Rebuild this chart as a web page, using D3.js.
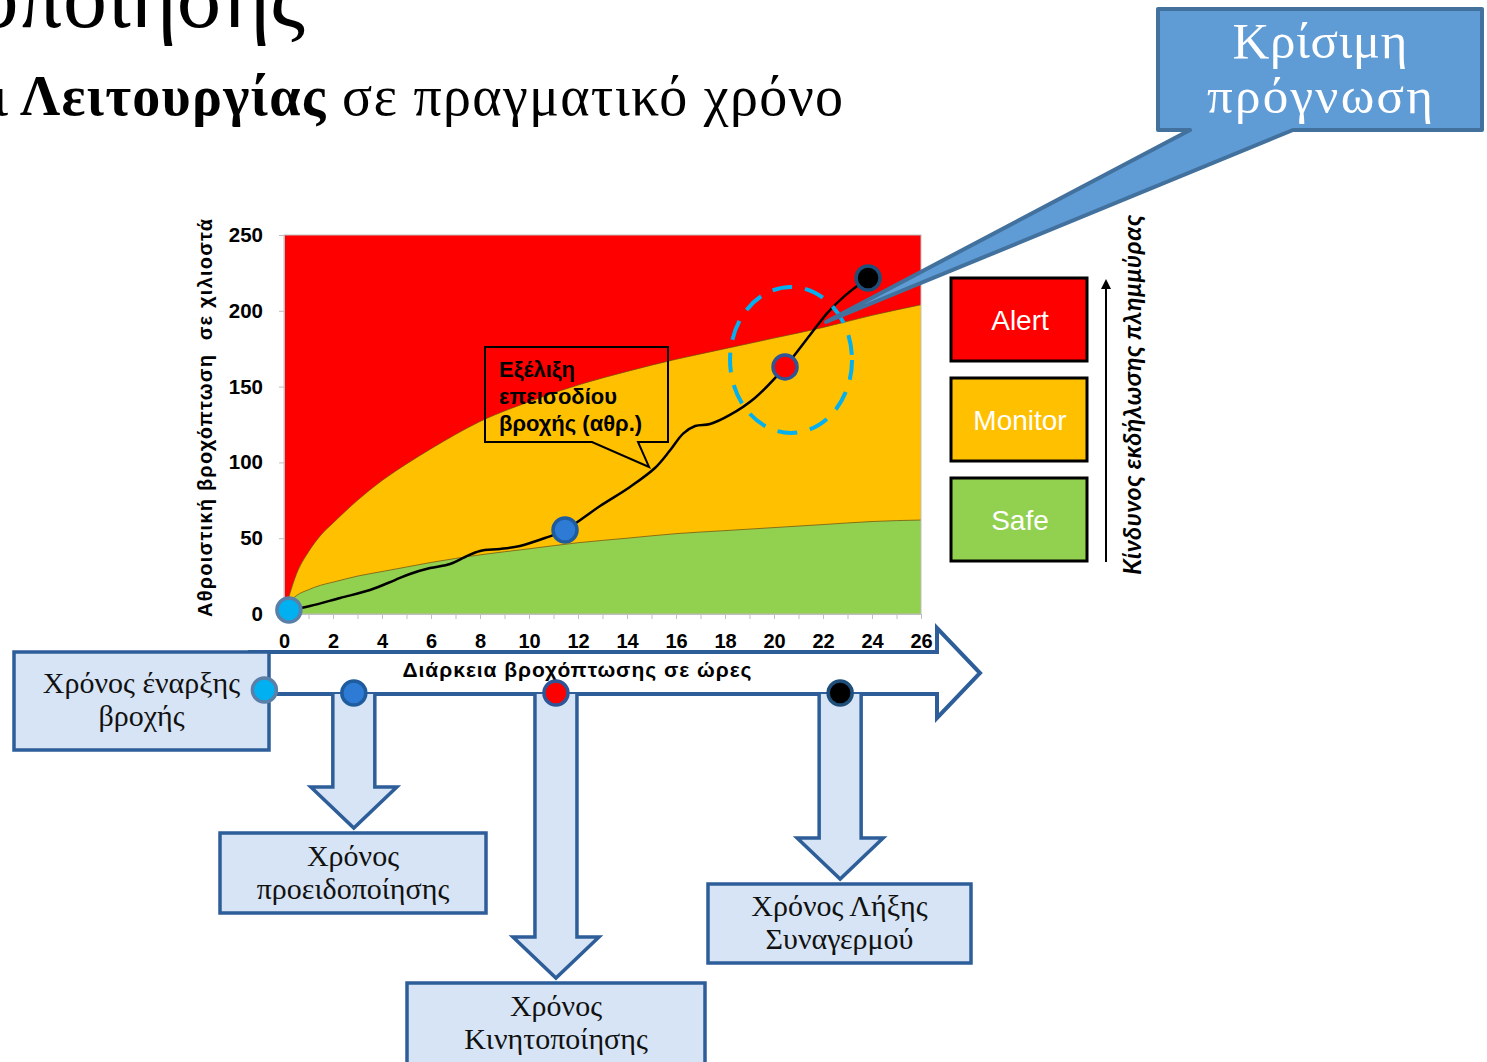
<!DOCTYPE html>
<html>
<head>
<meta charset="utf-8">
<script src="https://cdn.jsdelivr.net/npm/d3@7"></script>
<style>
body { margin: 0; background: #fff; }
svg text { white-space: pre; }
</style>
</head>
<body>
<svg id="chart" width="1487" height="1062"></svg>
<script>
// threshold curves (mm cumulative vs hours)
const hours = [0, 0.25, 0.5, 1, 1.5, 2, 3, 4, 5, 6, 8, 10, 12, 14, 16, 18, 20, 22, 24, 26];
const alertLimit = [0, 14, 26, 41, 52, 60, 75, 88, 99, 109, 127, 140, 151, 160, 168, 175, 182, 189, 197, 204];
const safeLimit = [0, 8, 12, 16, 19, 21, 25, 28, 31, 34, 39, 43, 47, 50, 53, 55, 57, 59, 61, 62];

// rain episode (cumulative)
const rainHours = [0.2, 1.06, 2.29, 3.51, 4.53, 5.14, 5.96, 6.78, 7.39, 8.0, 8.82, 9.63, 10.65, 11.47, 12.9, 14.12, 15.14, 15.76, 16.29, 16.78, 17.39, 18.2, 19.22, 20.45, 21.47, 22.2, 22.9, 23.84];
const rainTotal = [2.6, 5.3, 10.6, 15.8, 22.4, 26.4, 30.3, 33, 37.6, 41.6, 42.9, 44.9, 50.1, 55.4, 71.2, 83.8, 96.3, 108, 119, 124, 125.3, 131.3, 142.5, 163, 184, 199, 210, 221.6];

// events: start, warning, mobilisation, end of alarm
const eventHours = [0.2, 11.47, 20.45, 23.84];
const eventTotal = [2.6, 55.4, 163, 221.6];
const eventFill = ["#00B0F0", "#2E7BD6", "#FF0000", "#000000"];
const eventStroke = ["#5A7FA8", "#1F5C9E", "#2F5597", "#1F4E79"];
const timelineHours = [-0.8, 2.85, 11.1, 22.7];

const xTickLabels = [0, 2, 4, 6, 8, 10, 12, 14, 16, 18, 20, 22, 24, 26];
const yTickLabels = [0, 50, 100, 150, 200, 250];

const legendNames = ["Alert", "Monitor", "Safe"];
const legendColors = ["#FF0000", "#FFC000", "#92D050"];

const svg = d3.select("#chart");
const sans = "'Liberation Sans', Arial, sans-serif";
const serif = "'Liberation Serif', 'DejaVu Serif', serif";
const dark = "#2E5E99";
const pale = "#D6E4F5";

const x = d3.scaleLinear().domain([0, 26]).range([284, 921]);
const y = d3.scaleLinear().domain([0, 250]).range([614, 235]);

// --- titles
svg.append("text")
    .attr("x", 305).attr("y", 27)
    .attr("text-anchor", "end")
    .style("font-family", serif).style("font-size", "88px")
    .text("Προειδοποίησης");

svg.append("text")
    .attr("x", 8).attr("y", 115)
    .attr("text-anchor", "end")
    .style("font-family", serif).style("font-size", "56px")
    .text("και");

let sub = svg.append("text")
    .attr("x", 20).attr("y", 115)
    .attr("textLength", 823).attr("lengthAdjust", "spacing")
    .style("font-family", serif).style("font-size", "56px");
sub.append("tspan").style("font-weight", "bold").text("Λειτουργίας");
sub.append("tspan").text(" σε πραγματικό χρόνο");

// --- plot areas
svg.append("rect")
    .attr("x", x(0)).attr("y", y(250))
    .attr("width", x(26) - x(0)).attr("height", y(0) - y(250))
    .attr("fill", "#FF0000");

const alertArea = d3.area()
    .x((d, i) => x(hours[i]))
    .y0(y(0))
    .y1(d => y(d))
    .curve(d3.curveMonotoneX);

svg.append("path")
    .attr("d", alertArea(alertLimit))
    .attr("fill", "#FFC000");

svg.append("path")
    .attr("d", alertArea(safeLimit))
    .attr("fill", "#92D050");

const limitLine = d3.line()
    .x((d, i) => x(hours[i]))
    .y(d => y(d))
    .curve(d3.curveMonotoneX);

[alertLimit, safeLimit].forEach(arr => {
    svg.append("path")
        .attr("d", limitLine(arr))
        .attr("fill", "none")
        .attr("stroke", "#6B4A10")
        .attr("stroke-opacity", 0.7)
        .attr("stroke-width", 1);
});

// frame
svg.append("rect")
    .attr("x", x(0)).attr("y", y(250))
    .attr("width", x(26) - x(0)).attr("height", y(0) - y(250))
    .attr("fill", "none")
    .attr("stroke", "#BFBFBF");

// axes
const yAxis = svg.append("g")
    .attr("transform", `translate(${x(0)},0)`)
    .call(d3.axisLeft(y).tickValues(yTickLabels).tickSize(5).tickPadding(16));
yAxis.select(".domain").attr("stroke", "#BFBFBF");
yAxis.selectAll(".tick line").attr("stroke", "#BFBFBF");
yAxis.selectAll("text")
    .style("font-family", sans).style("font-size", "20.5px").style("font-weight", "bold")
    .attr("fill", "#000");

const xAxis = svg.append("g")
    .attr("transform", `translate(0,${y(0)})`)
    .call(d3.axisBottom(x).ticks(26).tickSize(5).tickPadding(15)
        .tickFormat(d => xTickLabels.includes(d) ? d : ""));
xAxis.select(".domain").attr("stroke", "#BFBFBF");
xAxis.selectAll(".tick line").attr("stroke", "#BFBFBF");
xAxis.selectAll("text")
    .style("font-family", sans).style("font-size", "20px").style("font-weight", "bold")
    .attr("fill", "#000");

svg.append("text")
    .attr("transform", "translate(212,418) rotate(-90)")
    .attr("text-anchor", "middle")
    .attr("textLength", 398).attr("lengthAdjust", "spacing")
    .style("font-family", sans).style("font-size", "20px").style("font-weight", "bold")
    .text("Αθροιστική βροχόπτωση  σε χιλιοστά");

// rain line
const rainLine = d3.line()
    .x((d, i) => x(rainHours[i]))
    .y(d => y(d))
    .curve(d3.curveCatmullRom);

svg.append("path")
    .attr("d", rainLine(rainTotal))
    .attr("fill", "none")
    .attr("stroke", "#000")
    .attr("stroke-width", 2.5);

// speech box on the line
const tipH = 14.9, tipV = 97;
svg.append("path")
    .attr("d", `M485,347 L668,347 L668,442 L638,442 L${x(tipH)},${y(tipV)} L592,442 L485,442 Z`)
    .attr("fill", "none")
    .attr("stroke", "#000")
    .attr("stroke-width", 2);

svg.append("text")
    .attr("x", 499).attr("y", 377)
    .style("font-family", sans).style("font-size", "22px").style("font-weight", "bold")
    .selectAll("tspan")
    .data(["Εξέλιξη", "επεισοδίου", "βροχής (αθρ.)"])
    .join("tspan")
    .attr("x", 499)
    .attr("dy", (d, i) => i ? 27 : 0)
    .text(d => d);

// dashed ellipse around critical dot
svg.append("ellipse")
    .attr("cx", x(eventHours[2]) + 6).attr("cy", y(eventTotal[2]) - 7)
    .attr("rx", 61).attr("ry", 73)
    .attr("fill", "none")
    .attr("stroke", "#00B0F0")
    .attr("stroke-width", 4)
    .attr("stroke-dasharray", "20 13");

// critical forecast callout
svg.append("path")
    .attr("d", "M1158,9 L1482,9 L1482,130 L1293,130 L826,322 L1190,130 L1158,130 Z")
    .attr("fill", "#5F9BD5")
    .attr("stroke", "#41719C")
    .attr("stroke-width", 4)
    .attr("stroke-linejoin", "round");

svg.append("text")
    .attr("x", 1320).attr("y", 58)
    .attr("text-anchor", "middle").attr("fill", "#fff")
    .attr("textLength", 175).attr("lengthAdjust", "spacing")
    .style("font-family", serif).style("font-size", "51px")
    .text("Κρίσιμη");
svg.append("text")
    .attr("x", 1320).attr("y", 113)
    .attr("text-anchor", "middle").attr("fill", "#fff")
    .attr("textLength", 226).attr("lengthAdjust", "spacing")
    .style("font-family", serif).style("font-size", "51px")
    .text("πρόγνωση");

// chart event dots
svg.selectAll(".chartDot")
    .data(eventHours)
    .join("circle")
    .attr("class", "chartDot")
    .attr("cx", d => x(d))
    .attr("cy", (d, i) => y(eventTotal[i]))
    .attr("r", 12)
    .attr("fill", (d, i) => eventFill[i])
    .attr("stroke", (d, i) => eventStroke[i])
    .attr("stroke-width", 3.5);

// legend
const legend = svg.selectAll(".legendBox")
    .data(legendNames)
    .join("g")
    .attr("class", "legendBox")
    .attr("transform", (d, i) => `translate(951,${278 + i * 100})`);
legend.append("rect")
    .attr("width", 136).attr("height", 83)
    .attr("fill", (d, i) => legendColors[i])
    .attr("stroke", "#000")
    .attr("stroke-width", 3);
legend.append("text")
    .attr("x", 69).attr("y", 52)
    .attr("text-anchor", "middle").attr("fill", "#fff")
    .style("font-family", sans).style("font-size", "28px")
    .text(d => d);

svg.append("defs").append("marker")
    .attr("id", "arrowUp")
    .attr("viewBox", "0 0 10 10")
    .attr("refX", 5).attr("refY", 5)
    .attr("markerWidth", 5).attr("markerHeight", 5)
    .attr("orient", "auto")
    .append("path")
    .attr("d", "M0,0 L10,5 L0,10 Z")
    .attr("fill", "#000");

svg.append("line")
    .attr("x1", 1106).attr("y1", 562)
    .attr("x2", 1106).attr("y2", 284)
    .attr("stroke", "#000").attr("stroke-width", 2)
    .attr("marker-end", "url(#arrowUp)");

svg.append("text")
    .attr("transform", "translate(1141,395) rotate(-90)")
    .attr("text-anchor", "middle")
    .attr("textLength", 360).attr("lengthAdjust", "spacing")
    .style("font-family", "Lato, 'Open Sans', sans-serif")
    .style("font-size", "25px").style("font-weight", "bold").style("font-style", "italic")
    .text("Κίνδυνος εκδήλωσης πλημμύρας");

// timeline arrow
svg.append("path")
    .attr("d", "M250,652 L937,652 L937,628 L980,673 L937,718 L937,694 L250,694 Z")
    .attr("fill", "#fff")
    .attr("stroke", dark)
    .attr("stroke-width", 4)
    .attr("stroke-linejoin", "miter");

svg.append("text")
    .attr("x", 577).attr("y", 677)
    .attr("text-anchor", "middle")
    .attr("textLength", 349).attr("lengthAdjust", "spacing")
    .style("font-family", sans).style("font-size", "21px").style("font-weight", "bold")
    .text("Διάρκεια βροχόπτωσης σε ώρες");

// down arrows from timeline
const headY = [0, 787, 937, 838];
[1, 2, 3].forEach(i => {
    const cx = x(timelineHours[i]);
    const h = headY[i];
    svg.append("path")
        .attr("d", `M${cx - 21},694 L${cx - 21},${h} L${cx - 43},${h} L${cx},${h + 41} L${cx + 43},${h} L${cx + 21},${h} L${cx + 21},694`)
        .attr("fill", pale)
        .attr("stroke", dark)
        .attr("stroke-width", 3.5);
});

// text boxes
const boxes = [
    {x: 14, y: 652, w: 255, h: 98, lines: ["Χρόνος έναρξης", "βροχής"]},
    {x: 220, y: 833, w: 266, h: 80, lines: ["Χρόνος", "προειδοποίησης"]},
    {x: 407, y: 983, w: 298, h: 90, lines: ["Χρόνος", "Κινητοποίησης"]},
    {x: 708, y: 884, w: 263, h: 79, lines: ["Χρόνος Λήξης", "Συναγερμού"]}
];
const firstBase = [693, 866, 1016, 916];
boxes.forEach((b, k) => {
    svg.append("rect")
        .attr("x", b.x).attr("y", b.y)
        .attr("width", b.w).attr("height", b.h)
        .attr("fill", pale)
        .attr("stroke", dark)
        .attr("stroke-width", 3.5);
    svg.append("text")
        .attr("text-anchor", "middle")
        .style("font-family", serif).style("font-size", "30px")
        .attr("fill", "#111")
        .selectAll("tspan")
        .data(b.lines)
        .join("tspan")
        .attr("x", b.x + b.w / 2)
        .attr("y", (d, i) => firstBase[k] + i * 33)
        .text(d => d);
});

// timeline dots
svg.selectAll(".timeDot")
    .data(timelineHours)
    .join("circle")
    .attr("class", "timeDot")
    .attr("cx", d => x(d))
    .attr("cy", (d, i) => i ? 693 : 690)
    .attr("r", 12)
    .attr("fill", (d, i) => eventFill[i])
    .attr("stroke", (d, i) => eventStroke[i])
    .attr("stroke-width", 3.5);
</script>
</body>
</html>
